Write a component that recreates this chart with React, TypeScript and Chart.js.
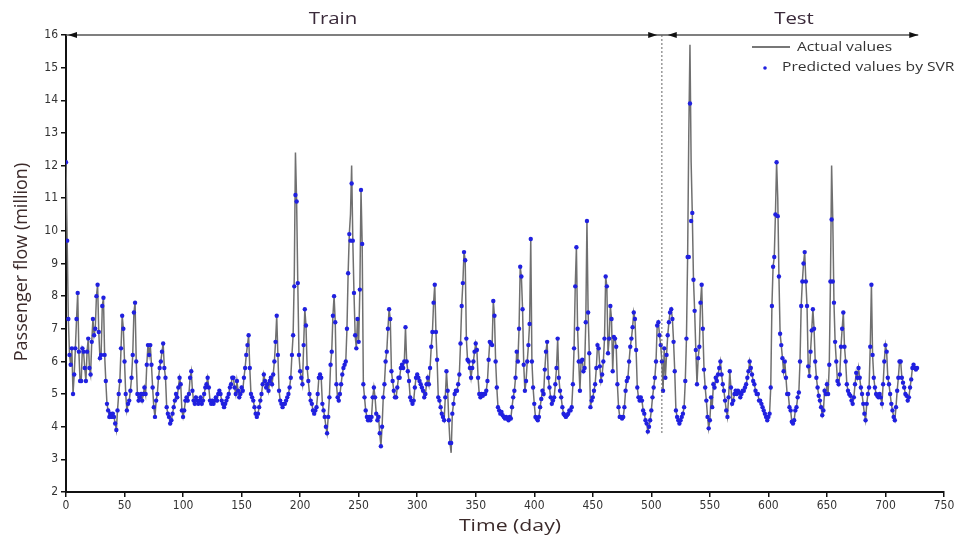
import React, { useEffect, useRef } from "react";
import { Chart, registerables } from "chart.js";

Chart.register(...registerables);

// Daily actual passenger flow (million), day 0..727
const actualValues: number[] = [
  12.1, 9.7, 7.3, 6.2, 5.9, 6.4, 5.0, 5.6, 6.4, 7.3,
  8.1, 6.3, 5.4, 5.4, 6.4, 6.3, 5.8, 5.4, 6.3, 6.7,
  5.8, 5.6, 6.6, 7.3, 6.8, 7.0, 8.0, 8.35, 6.9, 6.1,
  6.2, 7.7, 7.95, 6.2, 5.4, 4.7, 4.5, 4.3, 4.4, 4.3,
  4.4, 4.3, 4.1, 3.9, 4.5, 5.0, 5.4, 6.4, 7.4, 7.0,
  6.0, 5.0, 4.5, 4.7, 4.8, 5.1, 5.5, 6.2, 7.5, 7.8,
  6.0, 5.0, 4.8, 4.9, 5.0, 4.8, 5.0, 5.2, 5.0, 5.9,
  6.5, 6.2, 6.5, 5.9, 5.2, 4.6, 4.3, 4.8, 5.0, 5.5,
  5.8, 6.0, 6.3, 6.55, 5.8, 5.5, 4.6, 4.4, 4.3, 4.1,
  4.2, 4.4, 4.6, 4.8, 5.0, 4.9, 5.2, 5.5, 5.3, 4.5,
  4.3, 4.5, 4.8, 4.9, 4.8, 5.0, 5.5, 5.7, 5.1, 4.8,
  4.7, 4.9, 4.8, 4.7, 4.8, 4.9, 4.7, 4.8, 5.0, 5.2,
  5.3, 5.5, 5.2, 4.8, 4.7, 4.8, 4.7, 4.8, 4.9, 4.8,
  5.0, 5.1, 5.0, 4.8, 4.7, 4.6, 4.7, 4.8, 4.9, 5.0,
  5.2, 5.3, 5.5, 5.5, 5.2, 5.0, 5.4, 5.1, 4.9, 5.0,
  5.2, 5.1, 5.5, 5.8, 6.2, 6.5, 6.8, 5.8, 5.0, 4.9,
  4.8, 4.6, 4.4, 4.3, 4.4, 4.6, 4.8, 5.0, 5.3, 5.6,
  5.4, 5.2, 5.3, 5.1, 5.4, 5.5, 5.3, 5.6, 6.0, 6.6,
  7.4, 6.2, 5.1, 4.8, 4.7, 4.6, 4.7, 4.7, 4.8, 4.9,
  5.0, 5.2, 5.5, 6.2, 6.8, 8.6, 12.4, 10.9, 8.4, 6.2,
  5.7, 5.5, 5.3, 6.5, 7.6, 7.1, 5.8, 5.4, 5.0, 4.8,
  4.7, 4.5, 4.4, 4.5, 4.6, 5.0, 5.5, 5.6, 5.5, 4.7,
  4.5, 4.3, 4.0, 3.8, 4.3, 4.9, 5.9, 6.3, 7.4, 8.0,
  7.2, 5.3, 4.9, 4.8, 5.0, 5.3, 5.6, 5.8, 5.9, 6.0,
  7.0, 8.7, 9.9, 10.5, 12.0, 9.7, 8.1, 6.8, 6.4, 7.3,
  6.6, 8.2, 11.25, 9.6, 5.3, 4.9, 4.5, 4.3, 4.2, 4.3,
  4.2, 4.3, 4.9, 5.2, 4.9, 4.4, 4.2, 4.3, 3.8, 3.4,
  4.0, 4.9, 5.3, 6.0, 6.3, 7.0, 7.6, 7.3, 5.7, 5.4,
  5.1, 4.9, 4.9, 5.2, 5.5, 5.5, 5.8, 5.9, 5.8, 6.0,
  7.05, 6.0, 5.7, 5.4, 4.9, 4.8, 4.7, 4.8, 5.2, 5.5,
  5.6, 5.5, 5.4, 5.3, 5.2, 5.1, 4.9, 5.0, 5.3, 5.5,
  5.3, 5.8, 6.45, 6.9, 7.8, 8.35, 6.9, 6.05, 4.9, 4.8,
  4.6, 4.4, 4.3, 4.2, 4.9, 5.7, 5.1, 4.2, 3.5, 3.2,
  4.4, 4.7, 5.0, 5.1, 5.1, 5.3, 5.6, 6.55, 7.7, 8.4,
  9.35, 9.1, 6.7, 6.05, 6.0, 5.8, 5.5, 5.8, 6.0, 6.3,
  6.55, 6.35, 5.5, 5.0, 4.9, 5.0, 4.95, 5.0, 5.0, 5.1,
  5.4, 6.05, 6.6, 6.55, 6.5, 7.85, 7.4, 6.0, 5.2, 4.6,
  4.5, 4.4, 4.45, 4.35, 4.3, 4.25, 4.3, 4.25, 4.2, 4.3,
  4.25, 4.6, 4.9, 5.1, 5.5, 6.3, 6.0, 7.0, 8.9, 8.6,
  7.6, 5.9, 5.1, 5.4, 6.0, 6.5, 7.15, 9.75, 6.0, 5.2,
  4.7, 4.3, 4.25, 4.2, 4.3, 4.6, 4.85, 5.1, 5.0, 5.75,
  6.3, 6.6, 5.5, 5.2, 4.9, 4.7, 4.8, 4.9, 5.3, 5.8,
  6.7, 5.5, 5.1, 4.9, 4.6, 4.4, 4.35, 4.3, 4.35, 4.4,
  4.5, 4.5, 4.6, 5.3, 6.4, 8.3, 9.5, 7.0, 6.0, 5.1,
  6.0, 6.05, 5.7, 5.8, 7.2, 10.3, 7.5, 6.25, 4.6, 4.8,
  4.9, 5.1, 5.3, 5.8, 6.5, 6.4, 5.85, 5.4, 5.6, 6.0,
  6.7, 8.6, 8.3, 6.25, 6.7, 7.7, 7.3, 5.7, 6.75, 6.7,
  6.45, 5.3, 4.6, 4.3, 4.3, 4.25, 4.3, 4.6, 5.1, 5.4,
  5.5, 6.0, 6.45, 6.7, 7.05, 7.5, 7.3, 6.35, 5.2, 4.9,
  4.8, 4.9, 4.8, 4.5, 4.4, 4.2, 4.1, 3.85, 4.0, 4.2,
  4.5, 4.9, 5.2, 5.5, 6.0, 7.1, 7.2, 6.8, 6.5, 6.0,
  5.1, 6.4, 5.5, 6.2, 6.8, 7.2, 7.5, 7.6, 7.3, 6.6,
  5.7, 4.5, 4.3, 4.2, 4.1, 4.2, 4.3, 4.4, 4.6, 5.4,
  6.7, 9.2, 13.0, 15.7, 12.1, 10.5, 8.5, 7.55, 6.35, 5.3,
  6.1, 6.45, 7.8, 8.35, 7.0, 5.75, 5.2, 4.8, 4.3, 3.95,
  4.2, 4.9, 4.6, 5.3, 5.2, 5.5, 5.4, 5.6, 5.8, 6.0,
  5.6, 5.3, 5.1, 4.8, 4.5, 4.3, 4.9, 5.7, 5.2, 4.7,
  4.8, 5.0, 5.1, 5.0, 5.1, 5.05, 4.9, 5.0, 5.1, 5.1,
  5.2, 5.3, 5.5, 5.7, 6.0, 5.8, 5.6, 5.4, 5.3, 5.1,
  5.0, 5.0, 4.8, 4.8, 4.7, 4.6, 4.5, 4.4, 4.3, 4.2,
  4.3, 4.4, 5.2, 7.7, 8.9, 9.2, 10.5, 12.1, 11.0, 8.6,
  6.85, 6.5, 6.1, 5.7, 6.0, 5.5, 5.0, 5.0, 4.6, 4.5,
  4.15, 4.1, 4.2, 4.5, 4.6, 4.9, 5.05, 6.0, 7.7, 8.45,
  9.0, 9.35, 8.45, 7.7, 5.85, 5.55, 6.3, 6.95, 7.6, 7.0,
  6.0, 5.5, 5.2, 4.95, 4.8, 4.6, 4.35, 4.5, 5.1, 5.0,
  5.3, 5.0, 5.9, 8.45, 12.0, 10.35, 7.8, 6.6, 6.0, 5.4,
  5.3, 5.6, 6.45, 7.0, 7.5, 6.45, 6.0, 5.3, 5.1, 5.0,
  4.95, 4.8, 4.7, 4.9, 5.3, 5.65, 5.5, 5.8, 5.5, 5.2,
  5.0, 4.7, 4.4, 4.2, 4.7, 5.0, 5.2, 6.45, 8.35, 6.2,
  5.5, 5.2, 5.0, 4.95, 4.9, 5.0, 4.9, 4.7, 5.3, 6.0,
  6.5, 6.3, 5.5, 5.3, 5.0, 4.7, 4.5, 4.3, 4.2, 4.6,
  5.1, 5.5, 6.0, 6.0, 5.5, 5.35, 5.2, 5.0, 4.95, 4.8,
  4.9, 5.2, 5.45, 5.8, 5.9, 5.8, 5.75, 5.8,
];

// SVR predictions that differ from the actual line (day, value); elsewhere the dots sit on the line
const predictedDays: number[] = [195, 196, 243, 244, 329, 532, 533, 534, 535, 608, 654, 655, 656];
const predictedDiff: number[] = [8.3, 11.1, 9.7, 11.45, 3.5, 9.2, 13.9, 10.3, 10.55, 10.45, 10.35, 8.45, 7.8];

const xTicks: number[] = [0, 50, 100, 150, 200, 250, 300, 350, 400, 450, 500, 550, 600, 650, 700, 750];
const yTicks: number[] = [2, 3, 4, 5, 6, 7, 8, 9, 10, 11, 12, 13, 14, 15, 16];

const trainEndDay = 505;
const splitDay = 509;
const testStartDay = 514;
const lastDay = 728;

const seriesLabels = ["Actual values", "Predicted values by SVR"];
const phaseLabels = ["Train", "Test"];
const xTitle = "Time (day)";
const yTitle = "Passenger flow (million)";

const TICK_FONT = "'Liberation Sans Narrow', 'DejaVu Sans Condensed', 'Open Sans', sans-serif";
const TEXT_FONT = "'Open Sans', 'Noto Sans', sans-serif";

function arrowHead(ctx: CanvasRenderingContext2D, x: number, y: number, dir: number) {
  ctx.beginPath();
  ctx.moveTo(x, y);
  ctx.lineTo(x - dir * 9, y - 3);
  ctx.lineTo(x - dir * 9, y + 3);
  ctx.closePath();
  ctx.fill();
}

function stretchedText(ctx: CanvasRenderingContext2D, text: string, x: number, y: number, sx: number) {
  ctx.save();
  ctx.translate(x, y);
  ctx.scale(sx, 1);
  ctx.fillText(text, 0, 0);
  ctx.restore();
}

const annotationPlugin = {
  id: "annotations",
  afterDraw(chart: any) {
    const ctx: CanvasRenderingContext2D = chart.ctx;
    const xs = chart.scales.x;
    const ys = chart.scales.y;
    const yTop = ys.getPixelForValue(16);
    ctx.save();

    // phase arrows along the top
    ctx.strokeStyle = "#555";
    ctx.fillStyle = "#111";
    ctx.lineWidth = 1.5;
    const x0 = xs.getPixelForValue(0);
    const xTrainEnd = xs.getPixelForValue(trainEndDay);
    const xTestStart = xs.getPixelForValue(testStartDay);
    const xEnd = xs.getPixelForValue(lastDay);
    ctx.beginPath();
    ctx.moveTo(x0, yTop);
    ctx.lineTo(xEnd, yTop);
    ctx.stroke();
    arrowHead(ctx, x0 + 2, yTop, -1);
    arrowHead(ctx, xTrainEnd, yTop, 1);
    arrowHead(ctx, xTestStart, yTop, -1);
    arrowHead(ctx, xEnd, yTop, 1);

    // split line
    const xs0 = xs.getPixelForValue(splitDay);
    ctx.strokeStyle = "#666";
    ctx.lineWidth = 1;
    ctx.setLineDash([2, 2]);
    ctx.beginPath();
    ctx.moveTo(xs0, yTop);
    ctx.lineTo(xs0, ys.getPixelForValue(3.8));
    ctx.stroke();
    ctx.setLineDash([]);

    // phase labels
    ctx.fillStyle = "#3a2a3a";
    ctx.font = `17px ${TEXT_FONT}`;
    ctx.textAlign = "center";
    ctx.textBaseline = "middle";
    stretchedText(ctx, phaseLabels[0], 333, 19, 1.2);
    stretchedText(ctx, phaseLabels[1], 794, 19, 1.2);

    // legend
    ctx.strokeStyle = "#777";
    ctx.lineWidth = 2;
    ctx.beginPath();
    ctx.moveTo(752, 47);
    ctx.lineTo(790, 47);
    ctx.stroke();
    ctx.fillStyle = "#2020e0";
    ctx.beginPath();
    ctx.arc(765, 68, 1.8, 0, Math.PI * 2);
    ctx.fill();
    ctx.fillStyle = "#333";
    ctx.font = `12px ${TEXT_FONT}`;
    ctx.textAlign = "left";
    stretchedText(ctx, seriesLabels[0], 797, 48, 1.3);
    stretchedText(ctx, seriesLabels[1], 782, 68, 1.3);

    // axis titles
    ctx.fillStyle = "#3b2a2a";
    ctx.font = `17px ${TEXT_FONT}`;
    ctx.textAlign = "center";
    stretchedText(ctx, xTitle, 510, 526, 1.25);
    ctx.save();
    ctx.translate(22, 262);
    ctx.rotate(-Math.PI / 2);
    ctx.font = `18px ${TEXT_FONT}`;
    ctx.fillText(yTitle, 0, 0);
    ctx.restore();

    ctx.restore();
  },
};

export default function App() {
  const canvasRef = useRef<HTMLCanvasElement | null>(null);

  useEffect(() => {
    if (!canvasRef.current) return;
    const actualData = actualValues.map((v, i) => ({ x: i, y: v }));
    const predictedData = actualValues.map((v, i) => {
      const k = predictedDays.indexOf(i);
      return { x: i, y: k >= 0 ? predictedDiff[k] : v };
    });

    const chart = new Chart(canvasRef.current, {
      type: "line",
      data: {
        datasets: [
          {
            label: seriesLabels[0],
            data: actualData,
            borderColor: "#707070",
            borderWidth: 1.5,
            pointRadius: 0,
            tension: 0,
            order: 2,
          },
          {
            label: seriesLabels[1],
            data: predictedData,
            showLine: false,
            pointRadius: 2.2,
            pointBorderWidth: 0,
            pointBackgroundColor: "#2020e0",
            borderColor: "#2020e0",
            order: 1,
          },
        ],
      },
      plugins: [annotationPlugin],
      options: {
        responsive: false,
        animation: false,
        events: [],
        layout: { padding: { left: 0, top: 35, right: 24, bottom: 0 } },
        plugins: { legend: { display: false }, tooltip: { enabled: false } },
        scales: {
          x: {
            type: "linear",
            min: 0,
            max: 750,
            afterFit: (s: any) => { s.height = 48; },
            afterBuildTicks: (s: any) => { s.ticks = xTicks.map((v) => ({ value: v })); },
            ticks: { font: { family: TICK_FONT, size: 12 }, color: "#333", padding: 2, maxRotation: 0 },
            grid: { drawOnChartArea: false, drawTicks: true, tickLength: 5, color: "#111", lineWidth: 1.5 },
            border: { display: true, color: "#111", width: 2 },
          },
          y: {
            type: "linear",
            min: 2,
            max: 16,
            afterFit: (s: any) => { s.width = 66; },
            afterBuildTicks: (s: any) => { s.ticks = yTicks.map((v) => ({ value: v })); },
            ticks: { font: { family: TICK_FONT, size: 12 }, color: "#333", padding: 3 },
            grid: { drawOnChartArea: false, drawTicks: true, tickLength: 5, color: "#111", lineWidth: 1.5 },
            border: { display: true, color: "#111", width: 2 },
          },
        },
      },
    });
    return () => chart.destroy();
  }, []);

  return (
    <div style={{ position: "absolute", left: 0, top: 0, width: 968, height: 540, background: "#fff" }}>
      <canvas ref={canvasRef} width={968} height={540} />
    </div>
  );
}
